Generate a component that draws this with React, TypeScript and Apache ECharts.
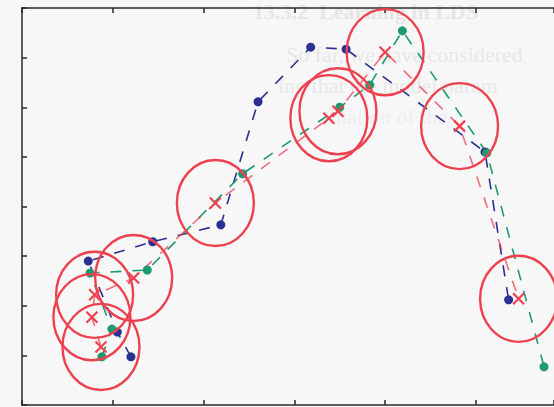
import React, { useEffect, useRef } from "react";
import * as echarts from "echarts";

// True positions (blue)
const trueX = [1.2, 1.05, 0.73, 1.44, 2.19, 2.6, 3.18, 3.57, 5.1, 5.36];
const trueY = [0.97, 1.47, 2.9, 3.29, 3.63, 6.11, 7.21, 7.17, 5.1, 2.12];
// Noisy measurements (green)
const measX = [0.88, 0.99, 0.75, 1.38, 2.43, 3.5, 3.83, 4.19, 5.12, 5.75];
const measY = [0.97, 1.53, 2.66, 2.72, 4.66, 6.0, 6.45, 7.54, 5.08, 0.77];
// Posterior means (red crosses)
const estX = [0.87, 0.77, 0.8, 1.23, 2.13, 3.38, 3.48, 4.0, 4.82, 5.47];
const estY = [1.17, 1.77, 2.22, 2.56, 4.07, 5.78, 5.92, 7.11, 5.62, 2.14];
// Posterior spread (circle radii, in axis units)
const radiusX = 0.424;
const radiusY = 0.867;

const xMin = 0;
const xMax = 5.86;
const yMin = 0;
const yMax = 8;

const ghostLines = [
  "13.3.2  Learning in LDS",
  "So far, we have considered",
  "ing that the model param",
  "mation of the",
];

const BLUE = "#2b3190";
const GREEN = "#1f9a6e";
const RED = "#ee4150";
const AXIS = "#2a2a2a";

export default function App() {
  const ref = useRef<HTMLDivElement>(null);

  useEffect(() => {
    if (!ref.current) return;
    const chart = echarts.init(ref.current, null, { renderer: "svg" });

    const zip = (xs: number[], ys: number[]) => xs.map((x, i) => [x, ys[i]]);

    const axisCommon = {
      type: "value" as const,
      axisLine: { show: true, onZero: false, lineStyle: { color: AXIS, width: 1.5 } },
      axisTick: { show: true, inside: true, length: 5, lineStyle: { color: AXIS, width: 1.5 } },
      axisLabel: { show: false },
      splitLine: { show: false },
    };

    chart.setOption({
      animation: false,
      backgroundColor: "#f7f7f7",
      graphic: [
        {
          type: "text",
          left: 253,
          top: 0,
          z: 0,
          style: {
            text: ghostLines[0],
            fill: "#e6e6e6",
            font: "bold 22px 'Liberation Serif'",
          },
        },
        {
          type: "text",
          left: 286,
          top: 43,
          z: 0,
          style: { text: ghostLines[1], fill: "#e8e8e8", font: "22px 'Liberation Serif'" },
        },
        {
          type: "text",
          left: 278,
          top: 74,
          z: 0,
          style: { text: ghostLines[2], fill: "#e8e8e8", font: "22px 'Liberation Serif'" },
        },
        {
          type: "text",
          left: 330,
          top: 105,
          z: 0,
          style: { text: ghostLines[3], fill: "#eeeeee", font: "22px 'Liberation Serif'" },
        },
      ],
      grid: { left: 22, top: 8, right: 0, bottom: 2, containLabel: false, outerBoundsMode: "none" },
      xAxis: [
        { ...axisCommon, position: "bottom", min: xMin, max: xMax, interval: 1 },
        { ...axisCommon, position: "top", min: xMin, max: xMax, interval: 1 },
      ],
      yAxis: [{ ...axisCommon, position: "left", min: yMin, max: yMax, interval: 1 }],
      series: [
        {
          type: "line",
          data: zip(trueX, trueY),
          symbol: "circle",
          symbolSize: 9,
          clip: false,
          itemStyle: { color: BLUE },
          lineStyle: { color: BLUE, width: 1.6, type: [11, 11] },
          z: 3,
        },
        {
          type: "line",
          data: zip(measX, measY),
          symbol: "circle",
          symbolSize: 9,
          clip: false,
          itemStyle: { color: GREEN },
          lineStyle: { color: GREEN, width: 1.6, type: [11, 11] },
          z: 3,
        },
        {
          type: "line",
          data: zip(estX, estY),
          symbol: "none",
          clip: false,
          lineStyle: { color: RED, width: 1.6, type: [11, 11], opacity: 0.75 },
          z: 3,
        },
        {
          type: "custom",
          data: zip(estX, estY),
          clip: false,
          z: 5,
          renderItem: (params: any, api: any) => {
            const c = api.coord([api.value(0), api.value(1)]);
            const s = api.size([radiusX, radiusY]);
            const h = 5.5;
            return {
              type: "group",
              children: [
                {
                  type: "ellipse",
                  shape: { cx: c[0], cy: c[1], rx: s[0], ry: s[1] },
                  style: { fill: "none", stroke: RED, lineWidth: 2.4 },
                },
                {
                  type: "line",
                  shape: { x1: c[0] - h, y1: c[1] - h, x2: c[0] + h, y2: c[1] + h },
                  style: { stroke: RED, lineWidth: 2.2 },
                },
                {
                  type: "line",
                  shape: { x1: c[0] - h, y1: c[1] + h, x2: c[0] + h, y2: c[1] - h },
                  style: { stroke: RED, lineWidth: 2.2 },
                },
              ],
            };
          },
        },
      ],
    });

    return () => chart.dispose();
  }, []);

  return (
    <div
      ref={ref}
      style={{ position: "fixed", left: 0, top: 0, width: 554, height: 407 }}
    />
  );
}
